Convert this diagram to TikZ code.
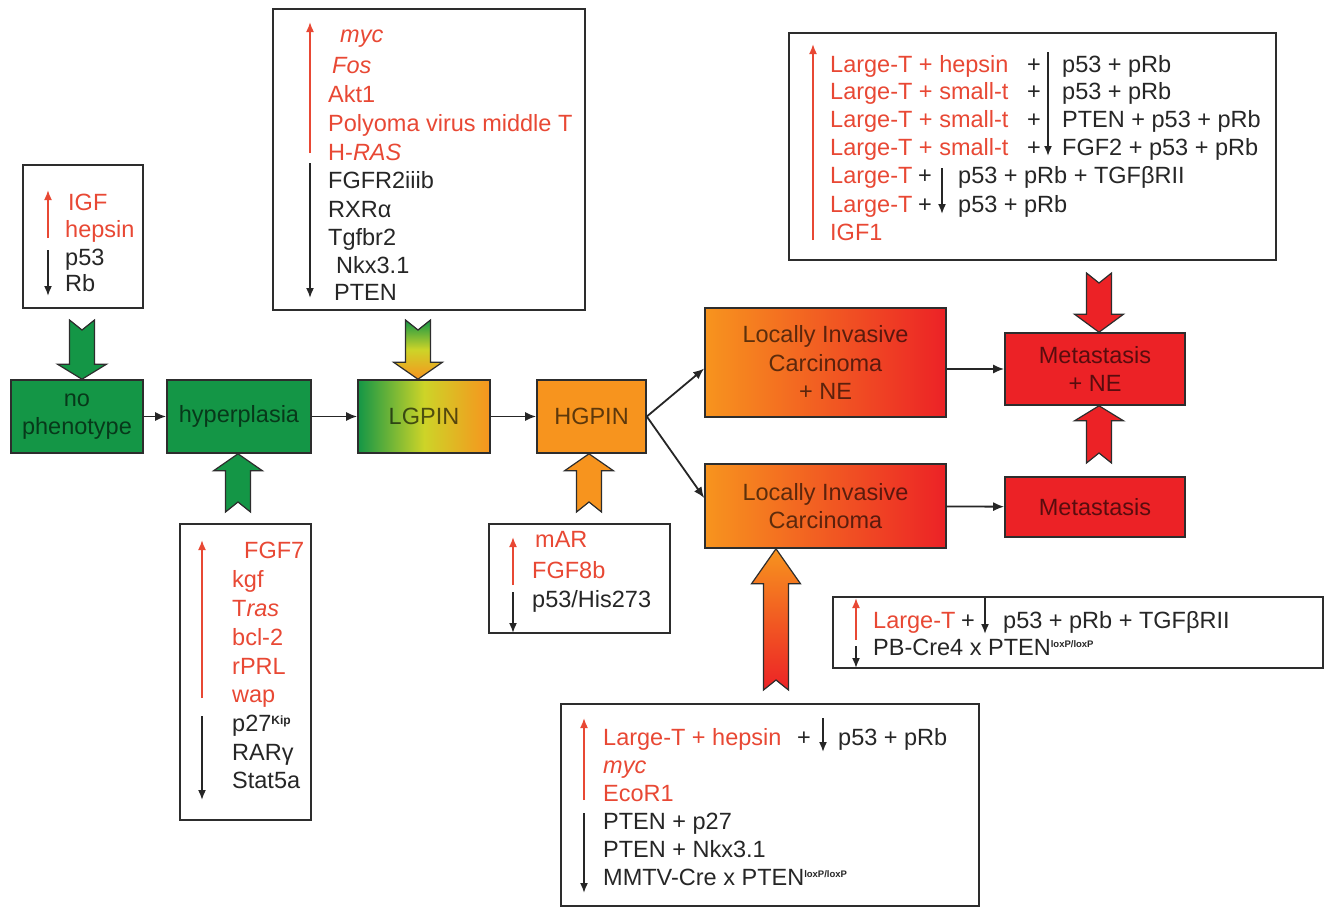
\documentclass[tikz,border=0pt]{standalone}
\usepackage{fontspec}
\setmainfont{Liberation Sans}
\usetikzlibrary{arrows.meta,calc}

\definecolor{stgreen}{RGB}{20,150,70}
\definecolor{styellow}{RGB}{205,212,40}
\definecolor{storange}{RGB}{247,148,30}
\definecolor{stred}{RGB}{236,34,38}
\definecolor{uptext}{RGB}{232,72,52}
\definecolor{edge}{RGB}{45,45,45}

\tikzset{
  stage/.style={draw=edge, line width=1.6pt, text=black, text opacity=0.62, align=center, inner sep=0pt},
  infobox/.style={draw=edge, line width=1.6pt, inner sep=0pt},
  up/.style={anchor=base west, inner sep=0pt, text=uptext},
  dn/.style={anchor=base west, inner sep=0pt, text=black!85},
  flow/.style={draw=black!85, line width=1.8pt, -{Latex[length=11pt,width=9pt]}},
  uparr/.style={draw=uptext, line width=1.7pt, -{Latex[length=10pt,width=8pt]}},
  dnarr/.style={draw=black!85, line width=1.7pt, -{Latex[length=10pt,width=8pt]}},
  bigarr/.style={draw=edge, line width=1.2pt},
}

% wide arrow with notched tail: [fill] {tail} {tip} {head length}
\newcommand{\fatarrow}[4][]{%
  \path[bigarr,#1] let \p1=(#2), \p2=(#3), \n1={sign(\y2-\y1)} in
    (\x1-12.5pt,\y1) -- (\x1,{\y1+(\n1)*10pt}) -- (\x1+12.5pt,\y1)
    -- (\x1+12.5pt,{\y2-(\n1)*#4}) -- (\x1+24.5pt,{\y2-(\n1)*#4}) -- (\x1,\y2)
    -- (\x1-24.5pt,{\y2-(\n1)*#4}) -- (\x1-12.5pt,{\y2-(\n1)*#4}) -- cycle;}
\newcommand{\lox}{\raisebox{8pt}{\fontsize{9.5}{10}\selectfont\bfseries loxP/loxP}}
\newcommand{\kip}{\raisebox{7pt}{\fontsize{12}{12}\selectfont\bfseries Kip}}

\begin{document}
\begin{tikzpicture}[x=1pt,y=-1pt,font=\fontsize{23.5}{28.7}\selectfont]
    \useasboundingbox (0,0) rectangle (1332,908);

    % stages
    \node[stage, fill=stgreen, minimum width=132pt, minimum height=73pt] (nopheno) at (77,416.5) {no\\phenotype};
    \node[stage, fill=stgreen, minimum width=144pt, minimum height=73pt] (hyper) at (239,416.5) {hyperplasia};
    \node[stage, left color=stgreen, right color=storange, middle color=styellow, minimum width=132pt, minimum height=73pt] (lgpin) at (424,416.5) {LGPIN};
    \node[stage, fill=storange, minimum width=109pt, minimum height=73pt] (hgpin) at (591.5,416.5) {HGPIN};
    \node[stage, left color=storange, right color=stred, minimum width=241pt, minimum height=109pt] (licne) at (825.5,362.5) {Locally Invasive\\Carcinoma\\+ NE};
    \node[stage, left color=storange, right color=stred, minimum width=241pt, minimum height=84pt] (lic) at (825.5,506) {Locally Invasive\\Carcinoma};
    \node[stage, fill=stred, minimum width=180pt, minimum height=72pt] (metne) at (1095,369) {Metastasis\\+ NE};
    \node[stage, fill=stred, minimum width=180pt, minimum height=60pt] (met) at (1095,507) {Metastasis};

    \draw[flow] (nopheno) -- (hyper);
    \draw[flow] (hyper) -- (lgpin);
    \draw[flow] (lgpin) -- (hgpin);
    \draw[flow] (hgpin.east) -- ([yshift=-6pt]licne.west);
    \draw[flow] (hgpin.east) -- ([yshift=8pt]lic.west);
    \draw[flow] (licne.east |- metne.west) -- (metne.west);
    \draw[flow] (lic) -- (met);

    % boxes
    \node[infobox, minimum width=120pt, minimum height=143pt] (igfbox) at (83,236.5) {};
    \node[infobox, minimum width=312pt, minimum height=301pt] (mycbox) at (429,159.5) {};
    \node[infobox, minimum width=487pt, minimum height=227pt] (ltbox) at (1032.5,146.5) {};
    \node[infobox, minimum width=131pt, minimum height=296pt] (fgfbox) at (245.5,672) {};
    \node[infobox, minimum width=181pt, minimum height=109pt] (marbox) at (579.5,578.5) {};
    \node[infobox, minimum width=490pt, minimum height=71pt] (pbbox) at (1078,632.5) {};
    \node[infobox, minimum width=418pt, minimum height=202pt] (hepbox) at (770,805) {};

    % wide arrows
    \coordinate (a1) at (82,320);
    \coordinate (a2) at (238,512);
    \coordinate (a3) at (418,320);
    \coordinate (a4) at (589,512);
    \coordinate (a5) at (776,690);
    \coordinate (a6) at (1099,273);
    \coordinate (a7) at (1099,463);
    \fatarrow[fill=stgreen]{a1}{a1 |- nopheno.north}{15pt}
    \fatarrow[fill=stgreen]{a2}{a2 |- hyper.south}{17pt}
    \fatarrow[top color=stgreen, bottom color=storange, middle color=styellow]{a3}{a3 |- lgpin.north}{17pt}
    \fatarrow[fill=storange]{a4}{a4 |- hgpin.south}{17pt}
    \fatarrow[top color=storange, bottom color=stred]{a5}{a5 |- lic.south}{35pt}
    \fatarrow[fill=stred]{a6}{a6 |- metne.north}{18pt}
    \fatarrow[fill=stred]{a7}{a7 |- metne.south}{15pt}

    % IGF box
    \node[up] (igf) at (68,210) {IGF};
    \node[up] (hepsin) at (65,237) {hepsin};
    \node[dn] (pa) at (65,265) {p53};
    \node[dn] (rb) at (65,291) {Rb};
    \draw[uparr] (48,238) -- (48,190);
    \draw[dnarr] (48,250) -- (48,296);

    % myc box
    \node[up] (myc) at (340,42) {\textit{myc}};
    \node[up] (fos) at (332,73) {\textit{Fos}};
    \node[up] (akt) at (328,102) {Akt1};
    \node[up] (pymt) at (328,131) {Polyoma virus middle T};
    \node[up] (hras) at (328,160) {H-\textit{RAS}};
    \node[dn] (fgfr) at (328,188) {FGFR2iiib};
    \node[dn] (rxr) at (328,217) {RXRα};
    \node[dn] (tgfbr) at (328,245) {Tgfbr2};
    \node[dn] (nkx) at (336,273) {Nkx3.1};
    \node[dn] (pten) at (334,300) {PTEN};
    \draw[uparr] (310,153) -- (310,22);
    \draw[dnarr] (310,163) -- (310,298);

    % Large-T box
    \node[up] (lta) at (830,72) {Large-T + hepsin};
    \node[up] (ltb) at (830,99) {Large-T + small-t};
    \node[up] (ltc) at (830,127) {Large-T + small-t};
    \node[up] (ltd) at (830,155) {Large-T + small-t};
    \node[up] (lte) at (830,183) {Large-T};
    \node[up] (ltf) at (830,212) {Large-T};
    \node[up] (igfa) at (830,240) {IGF1};
    \node[dn] (pla) at (1027,72) {+};
    \node[dn] (plb) at (1027,99) {+};
    \node[dn] (plc) at (1027,127) {+};
    \node[dn] (pld) at (1027,155) {+};
    \node[dn] (ple) at (918,183) {+};
    \node[dn] (plf) at (918,212) {+};
    \node[dn] (loa) at (1062,72) {p53 + pRb};
    \node[dn] (lob) at (1062,99) {p53 + pRb};
    \node[dn] (loc) at (1062,127) {PTEN + p53 + pRb};
    \node[dn] (lod) at (1062,155) {FGF2 + p53 + pRb};
    \node[dn] (loe) at (958,183) {p53 + pRb + TGFβRII};
    \node[dn] (lof) at (958,212) {p53 + pRb};
    \draw[uparr] (813,240) -- (813,44);
    \draw[dnarr] (1048,52) -- (1048,156);
    \draw[dnarr] (942,168) -- (942,214);

    % FGF7 box
    \node[up] (fgf) at (244,558) {FGF7};
    \node[up] (kgf) at (232,587) {kgf};
    \node[up] (tras) at (232,616) {T\textit{ras}};
    \node[up] (bcl) at (232,645) {bcl-2};
    \node[up] (rprl) at (232,674) {rPRL};
    \node[up] (wap) at (232,702) {wap};
    \node[dn] (pkip) at (232,731) {p27\kip};
    \node[dn] (rar) at (232,760) {RARγ};
    \node[dn] (stat) at (232,788) {Stat5a};
    \draw[uparr] (202,698) -- (202,540);
    \draw[dnarr] (202,716) -- (202,800);

    % mAR box
    \node[up] (mar) at (535,547) {mAR};
    \node[up] (fgfb) at (532,578) {FGF8b};
    \node[dn] (his) at (532,607) {p53/His273};
    \draw[uparr] (513,585) -- (513,537);
    \draw[dnarr] (513,592) -- (513,633);

    % PB-Cre4 box
    \node[up] (ltg) at (873,628) {Large-T};
    \node[dn] (plg) at (961,628) {+};
    \node[dn] (log) at (1003,628) {p53 + pRb + TGFβRII};
    \node[dn] (pbcre) at (873,655) {PB-Cre4 x PTEN\lox};
    \draw[uparr] (856,640) -- (856,598);
    \draw[dnarr] (856,646) -- (856,668);
    \draw[dnarr] (985,598) -- (985,634);

    % hepsin box
    \node[up] (lth) at (603,745) {Large-T + hepsin};
    \node[dn] (plh) at (797,745) {+};
    \node[dn] (loh) at (838,745) {p53 + pRb};
    \node[up] (mycb) at (603,773) {\textit{myc}};
    \node[up] (eco) at (603,801) {EcoR1};
    \node[dn] (ptena) at (603,829) {PTEN + p27};
    \node[dn] (ptenb) at (603,857) {PTEN + Nkx3.1};
    \node[dn] (mmtv) at (603,885) {MMTV-Cre x PTEN\lox};
    \draw[uparr] (584,800) -- (584,718);
    \draw[dnarr] (584,813) -- (584,893);
    \draw[dnarr] (823,718) -- (823,752);
\end{tikzpicture}
\end{document}
